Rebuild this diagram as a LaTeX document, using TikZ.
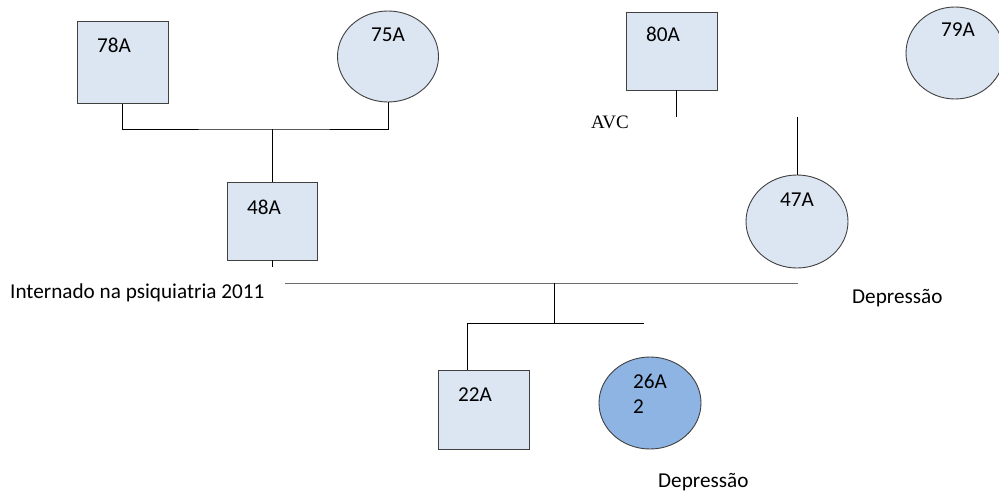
\documentclass[tikz,border=0pt]{standalone}
\usepackage{fontspec}
\setmainfont{Carlito}
\newfontfamily\serifface{Liberation Serif}
\usetikzlibrary{shapes.geometric,calc}
\definecolor{paleblue}{HTML}{DCE6F2}
\definecolor{midblue}{HTML}{8EB4E3}
\definecolor{edgegray}{HTML}{404040}
\begin{document}
\begin{tikzpicture}[x=1pt,y=-1pt,
  male/.style={draw=edgegray,fill=paleblue,line width=0.9pt,rectangle,inner sep=0pt},
  female/.style={draw=edgegray,fill=paleblue,line width=0.9pt,ellipse,inner sep=0pt},
  tag/.style={anchor=base west,inner sep=0pt,font=\fontsize{21.2}{24}\selectfont},
  link/.style={draw=black,line width=0.8pt},
  grayline/.style={draw=gray!85!black,line width=1pt}]
\useasboundingbox (0,0) rectangle (999,492);

% individuals
\node[male,minimum width=91pt,minimum height=82pt] (m78) at (122.5,62.5) {};
\node[female,minimum width=101pt,minimum height=91pt] (f75) at (388,56.5) {};
\node[male,minimum width=90pt,minimum height=78pt] (m48) at (272.5,221) {};
\node[male,minimum width=91pt,minimum height=78pt] (m80) at (671.5,51) {};
\node[female,minimum width=98pt,minimum height=92pt] (f79) at (955,53) {};
\node[female,minimum width=102pt,minimum height=93pt] (f47) at (797,221.5) {};
\node[male,minimum width=91pt,minimum height=79pt] (s22) at (483.5,409.5) {};
\node[female,fill=midblue,minimum width=102pt,minimum height=92pt] (d26) at (650,403) {};

% ages and notes
\node[tag] (t78) at (97,53) {78A};
\node[tag] (t75) at (371,42) {75A};
\node[tag] (t48) at (247,214) {48A};
\node[tag] (t80) at (646,42) {80A};
\node[tag] (t79) at (941,37) {79A};
\node[tag] (t47) at (780,207) {47A};
\node[tag] (t22) at (458,401) {22A};
\node[tag] (t26) at (633,388) {26A};
\node[tag] (t26b) at (633,413) {2};
\node[tag] (nInt) at (10,298) {Internado na psiquiatria 2011};
\node[tag] (nDep1) at (852,303) {Depressão};
\node[tag] (nDep2) at (658,487) {Depressão};
\node[anchor=base west,inner sep=0pt,font=\serifface\fontsize{19}{22}\selectfont] (nAVC) at (591,129) {AVC};

% junction points
\coordinate (g1) at (272.5,129);
\coordinate (st48) at (272.5,267);
\coordinate (mL) at (285,283);
\coordinate (mR) at (798,283);
\coordinate (mC) at (554,283);
\coordinate (sib) at (554,323);
\coordinate (sibL) at (467,323);
\coordinate (sibR) at (644,323);
\coordinate (st80a) at ($(m80.south)+(4.5,0)$);
\coordinate (st80) at (676,117);
\coordinate (st47) at (797,117);
\coordinate (top22) at (467,370);

% connectors
\draw[link] (m78.south) |- (g1) -| (f75.south);
\draw[link] (g1) -- (m48.north);
\draw[link] (m48.south) -- (st48);
\draw[grayline] (mL) -- (mR);
\draw[link] (mC) -- (sib);
\draw[link] (sibL) -- (sibR);
\draw[link] (sibL) -- (top22);
\draw[link] (st80a) -- (st80);
\draw[link] (st47) -- (f47.north);
\end{tikzpicture}
\end{document}
